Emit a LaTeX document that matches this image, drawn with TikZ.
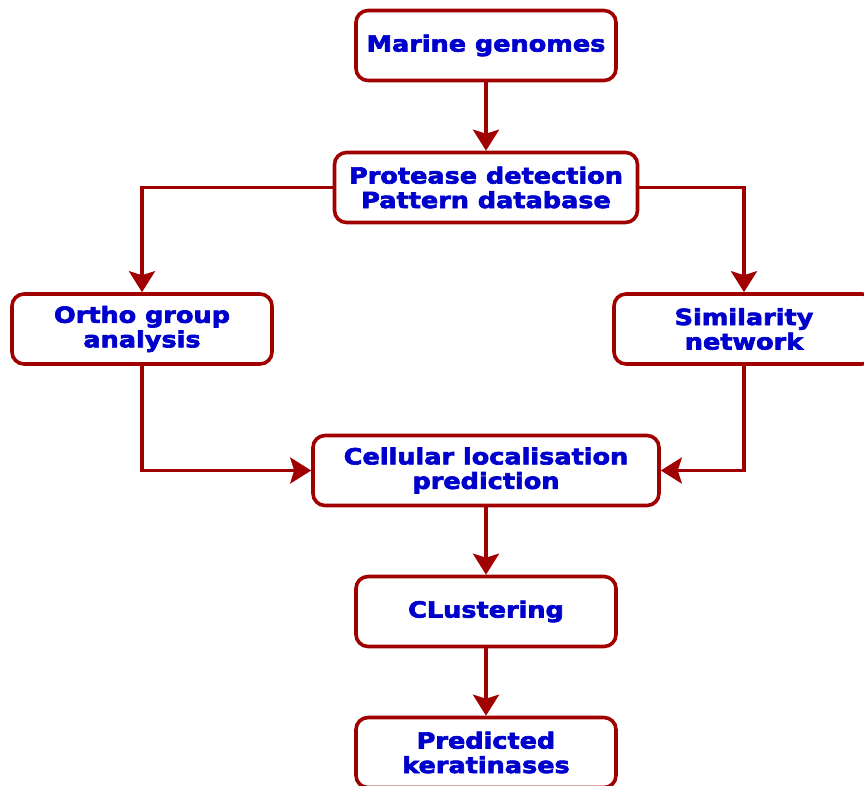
\documentclass[tikz,border=0pt]{standalone}
\usepackage{fontspec}
\newfontfamily\boxfont[FakeStretch=1.15, FakeBold=3]{DejaVu Sans Bold}
\usetikzlibrary{arrows.meta,positioning}
\definecolor{boxred}{RGB}{160,0,0}
\definecolor{textblue}{RGB}{0,0,204}

\begin{document}
\begin{tikzpicture}[x=1pt, y=-1pt,
    stage/.style={draw=boxred, line width=3.6pt, rounded corners=12pt, fill=white,
                  text=textblue, align=center, minimum width=260pt, minimum height=70pt,
                  inner sep=2pt, font=\boxfont\fontsize{22.2}{24.5}\selectfont},
    flow/.style={-{Stealth[length=21pt, width=26pt, inset=4pt]}, draw=boxred, line width=3.6pt}]

    \useasboundingbox (0,0) rectangle (864,785);

    \node[stage] (genomes) at (486,45.5) {Marine genomes};
    \node[stage, minimum width=303pt, below=68.4pt of genomes] (protease) {Protease detection\\Pattern database};
    \node[stage] (ortho) at (142,329) {Ortho group\\analysis};
    \node[stage] (similar) at (744,329) {Similarity\\network};
    \node[stage, minimum width=346pt, below=209.4pt of protease] (cellular) {Cellular localisation\\prediction};
    \node[stage, below=67.4pt of cellular] (clustering) {CLustering};
    \node[stage, below=67.4pt of clustering] (predicted) {Predicted\\keratinases};

    \draw[flow] (genomes) -- (protease);
    \draw[flow] (protease.west) -| (ortho);
    \draw[flow] (protease.east) -| (similar);
    \draw[flow] (ortho) |- (cellular);
    \draw[flow] (similar) |- (cellular);
    \draw[flow] (cellular) -- (clustering);
    \draw[flow] (clustering) -- (predicted);
\end{tikzpicture}
\end{document}
